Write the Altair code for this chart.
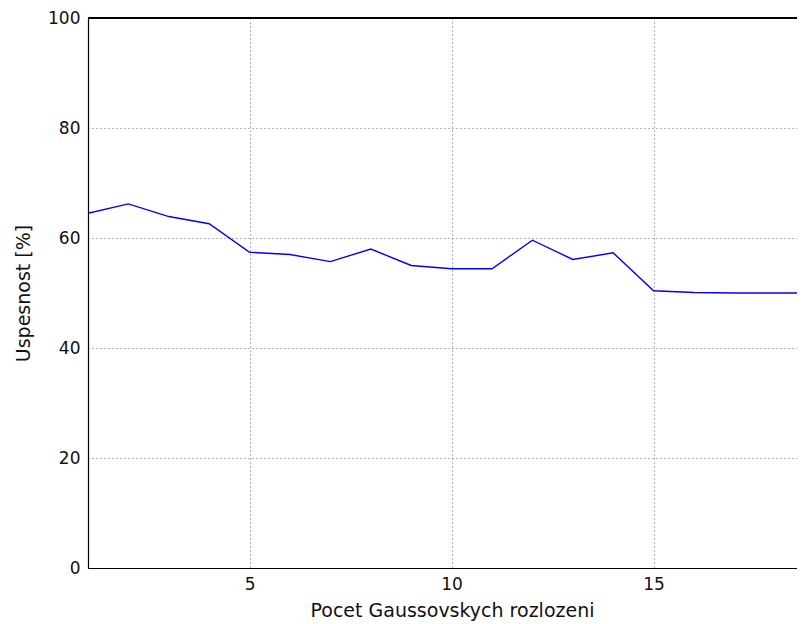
import altair as alt
import pandas as pd

gauss = list(range(1, 20))
uspesnost = [64.5, 66.2, 63.9, 62.6, 57.4, 57.0, 55.7, 58.0, 55.0, 54.4,
             54.4, 59.6, 56.1, 57.3, 50.4, 50.1, 50.0, 50.0, 50.0]
x_ticks = [5, 10, 15]
y_ticks = [0, 20, 40, 60, 80, 100]

df = pd.DataFrame({"k": gauss, "u": uspesnost})

FONT = "DejaVu Sans"

line = alt.Chart(df).mark_line(color="#0000ff", strokeWidth=1.4, clip=True).encode(
    x=alt.X("k:Q",
            scale=alt.Scale(domain=[1, 18.55], nice=False, zero=False),
            axis=alt.Axis(values=x_ticks, title="Pocet Gaussovskych rozlozeni",
                          format="d", titleX=364)),
    y=alt.Y("u:Q",
            scale=alt.Scale(domain=[0, 100], nice=False),
            axis=alt.Axis(values=y_ticks, title="Uspesnost [%]", format="d")),
)

top = alt.Chart(df).mark_rule(color="black", strokeWidth=1.2).encode(
    y=alt.datum(100)
)

chart = alt.layer(line, top).properties(
    width=709, height=550,
    autosize="none",
    padding={"left": 80, "top": 10, "right": 0, "bottom": 54},
).configure_view(stroke=None).configure_axis(
    grid=True,
    gridColor="#000000",
    gridOpacity=0.6,
    gridDash=[1, 3],
    gridWidth=1,
    domainColor="#000000",
    domainWidth=1.2,
    ticks=False,
    labelFont=FONT,
    labelFontSize=17,
    labelColor="#111111",
    titleFont=FONT,
    titleFontSize=19,
    titleFontWeight="normal",
    titleColor="#111111",
).configure_axisX(
    labelPadding=8, titlePadding=9,
).configure_axisY(
    labelPadding=8, titlePadding=14,
)

chart.save("out.html", embed_options={"renderer": "svg", "actions": False})
